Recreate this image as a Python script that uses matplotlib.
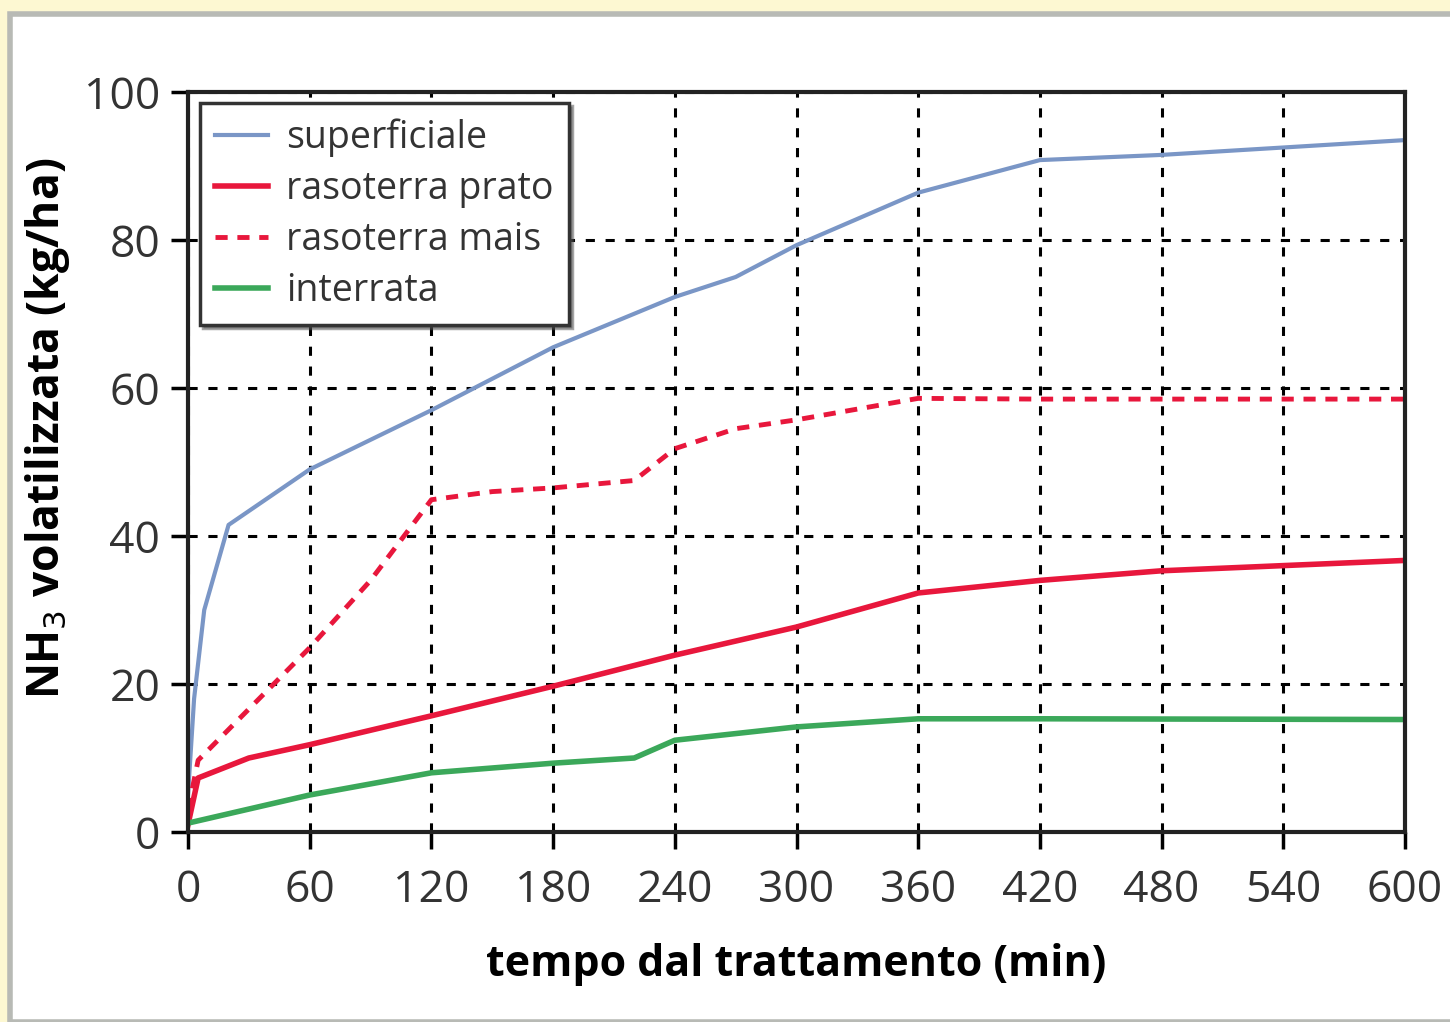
import matplotlib.pyplot as plt
from matplotlib.patches import Rectangle

# tempo (min) and NH3 volatilizzata (kg/ha)
t_sup = [0, 3, 8, 20, 60, 120, 180, 240, 270, 300, 360, 420, 480, 540, 600]
sup = [5, 18, 30, 41.5, 49, 57, 65.5, 72.3, 75, 79.3, 86.4, 90.8, 91.5, 92.5, 93.5]

t_prato = [0, 5, 30, 60, 120, 180, 240, 300, 360, 420, 480, 540, 600]
prato = [1, 7.3, 10, 11.8, 15.7, 19.7, 23.9, 27.7, 32.3, 34, 35.3, 36, 36.7]

t_mais = [0, 5, 60, 90, 120, 150, 180, 220, 240, 270, 300, 360, 420, 600]
mais = [3, 9.7, 24.9, 34, 44.9, 46, 46.5, 47.5, 51.8, 54.5, 55.7, 58.6, 58.5, 58.5]

t_int = [0, 60, 120, 180, 220, 240, 300, 360, 420, 600]
interrata = [1.2, 5, 8, 9.3, 10, 12.4, 14.2, 15.3, 15.3, 15.2]

xticks = list(range(0, 601, 60))
yticks = [0, 20, 40, 60, 80, 100]

plt.rcParams['font.family'] = ['Open Sans', 'DejaVu Sans']

fig = plt.figure(figsize=(14.5, 10.22), dpi=100)
fig.patch.set_facecolor('#fdf8d2')
panel = Rectangle((10 / 1450, 0.0), 1.0, 1 - 14 / 1022, transform=fig.transFigure,
                  facecolor='white', edgecolor='#b8bab5', linewidth=4, zorder=-10)
fig.patches.append(panel)

ax = fig.add_axes([188 / 1450, 1 - 832 / 1022, 1217 / 1450, 740 / 1022])
ax.set_zorder(5)
ax.set_facecolor('white')

ax.plot(t_sup, sup, color='#7a96c6', lw=3, label='superficiale')
ax.plot(t_prato, prato, color='#e8173c', lw=4, label='rasoterra prato')
ax.plot(t_mais, mais, color='#e8173c', lw=3.5, ls=(0, (2.5, 2)), label='rasoterra mais')
ax.plot(t_int, interrata, color='#3ba85a', lw=4, label='interrata')

ax.set_xlim(0, 600)
ax.set_ylim(0, 100)
ax.set_xticks(xticks)
ax.set_yticks(yticks)
ax.tick_params(labelsize=32, labelcolor='#333333', length=12, width=2.5, direction='out')
ax.tick_params(axis='x', pad=14)
ax.tick_params(axis='y', pad=8)
ax.grid(True, color='black', ls=(0, (3, 3.5)), lw=2.2)
for s in ax.spines.values():
    s.set_linewidth(3)
    s.set_color('#222222')

ax.set_xlabel('tempo dal trattamento (min)', fontsize=31, fontweight='bold', labelpad=22)
ax.set_ylabel('NH$_3$ volatilizzata (kg/ha)', fontsize=32, fontweight='bold')
ax.yaxis.set_label_coords(-0.095, 0.546)

leg = ax.legend(loc='upper left', fontsize=27, fancybox=False, framealpha=1,
                edgecolor='#333333', handlelength=1.4, handletextpad=0.5,
                borderpad=0.4, labelspacing=0.35, borderaxespad=0,
                shadow=True, bbox_to_anchor=(0.01, 0.985))
leg.get_frame().set_linewidth(2.5)
for txt in leg.get_texts():
    txt.set_color('#333333')

plt.savefig('out.png', dpi=100, facecolor=fig.get_facecolor())
